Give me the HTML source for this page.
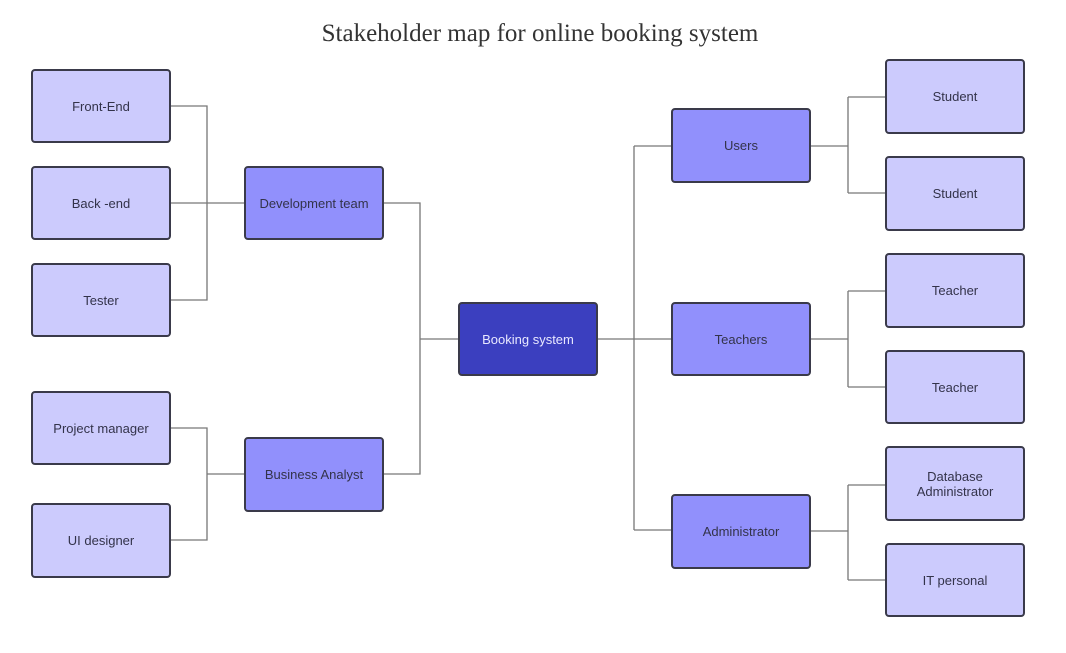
<!DOCTYPE html>
<html><head><style>
body{margin:0;background:#fff;}
.b{position:absolute;box-sizing:border-box;border:2px solid #3a3a4a;border-radius:4px;display:flex;align-items:center;justify-content:center;text-align:center;font-family:"Liberation Sans",sans-serif;font-size:13px;color:#33334a;width:140px;}
.l{background:#cccbfd;}
.m{background:#9190fc;}
.c{background:#3b3fbf;color:#e8e8ff;}
</style></head><body>
<div style="position:relative;width:1066px;height:653px;overflow:hidden">
<div style="position:absolute;left:0;width:1080px;top:20px;text-align:center;font-family:'Liberation Serif',serif;font-size:25px;color:#333;">Stakeholder map for online booking system</div>
<svg width="1066" height="653" style="position:absolute;left:0;top:0" fill="none" stroke="#777" stroke-width="1.3">
<path d="M170 106H207V300H170M170 203H244"/>
<path d="M170 428H207V540H170M207 474H244"/>
<path d="M384 203H420V474H384M420 339H458"/>
<path d="M598 339H671M634 146V530M634 146H671M634 530H671"/>
<path d="M811 146H848M848 97V193M848 97H885M848 193H885"/>
<path d="M811 339H848M848 291V387M848 291H885M848 387H885"/>
<path d="M811 531H848M848 485V580M848 485H885M848 580H885"/>
</svg>
<div class="b l" style="left:31px;top:69px;height:74px">Front-End</div>
<div class="b l" style="left:31px;top:166px;height:74px">Back -end</div>
<div class="b l" style="left:31px;top:263px;height:74px">Tester</div>
<div class="b l" style="left:31px;top:391px;height:74px">Project manager</div>
<div class="b l" style="left:31px;top:503px;height:75px">UI designer</div>
<div class="b m" style="left:244px;top:166px;height:74px">Development team</div>
<div class="b m" style="left:244px;top:437px;height:75px">Business Analyst</div>
<div class="b c" style="left:458px;top:302px;height:74px">Booking system</div>
<div class="b m" style="left:671px;top:108px;height:75px">Users</div>
<div class="b m" style="left:671px;top:302px;height:74px">Teachers</div>
<div class="b m" style="left:671px;top:494px;height:75px">Administrator</div>
<div class="b l" style="left:885px;top:59px;height:75px">Student</div>
<div class="b l" style="left:885px;top:156px;height:75px">Student</div>
<div class="b l" style="left:885px;top:253px;height:75px">Teacher</div>
<div class="b l" style="left:885px;top:350px;height:74px">Teacher</div>
<div class="b l" style="left:885px;top:446px;height:75px">Database<br>Administrator</div>
<div class="b l" style="left:885px;top:543px;height:74px">IT personal</div>
</div>
</body></html>
